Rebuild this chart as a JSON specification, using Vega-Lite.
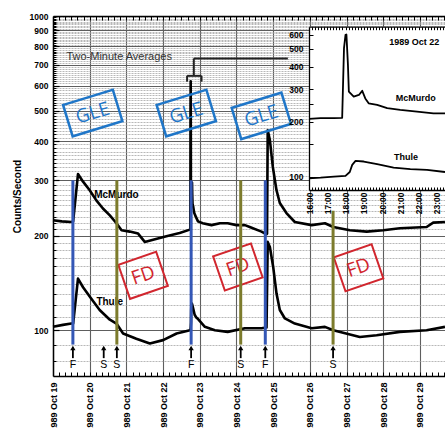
{
 "$schema": "https://vega.github.io/schema/vega-lite/v6.json",
 "width": 392,
 "height": 360,
 "autosize": {"type": "none"},
 "padding": {"left": 53, "top": 16, "right": 0, "bottom": 52},
 "background": "white",
 "config": {"view": {"stroke": null}, "font": "Liberation Sans"},
 "datasets": {
  "series": [
   {"d":0,"v":224,"s":"McMurdo"},{"d":0.24,"v":222,"s":"McMurdo"},{"d":0.5,"v":221,"s":"McMurdo"},{"d":0.549,"v":222,"s":"McMurdo"},{"d":0.681,"v":314,"s":"McMurdo"},{"d":0.819,"v":297,"s":"McMurdo"},{"d":1.0,"v":279,"s":"McMurdo"},{"d":1.181,"v":259,"s":"McMurdo"},{"d":1.361,"v":244,"s":"McMurdo"},{"d":1.549,"v":232,"s":"McMurdo"},{"d":1.729,"v":219,"s":"McMurdo"},{"d":1.868,"v":208,"s":"McMurdo"},{"d":2.09,"v":206,"s":"McMurdo"},{"d":2.319,"v":203,"s":"McMurdo"},{"d":2.5,"v":191,"s":"McMurdo"},{"d":2.729,"v":194,"s":"McMurdo"},{"d":3.09,"v":199,"s":"McMurdo"},{"d":3.451,"v":204,"s":"McMurdo"},{"d":3.729,"v":209,"s":"McMurdo"},{"d":3.743,"v":210,"s":"McMurdo"},{"d":3.747,"v":500,"s":"McMurdo"},{"d":3.752,"v":620,"s":"McMurdo"},{"d":3.756,"v":409,"s":"McMurdo"},{"d":3.758,"v":292,"s":"McMurdo"},{"d":3.769,"v":274,"s":"McMurdo"},{"d":3.781,"v":280,"s":"McMurdo"},{"d":3.788,"v":295,"s":"McMurdo"},{"d":3.795,"v":268,"s":"McMurdo"},{"d":3.803,"v":252,"s":"McMurdo"},{"d":3.822,"v":247,"s":"McMurdo"},{"d":3.845,"v":237,"s":"McMurdo"},{"d":3.875,"v":232,"s":"McMurdo"},{"d":3.913,"v":227,"s":"McMurdo"},{"d":3.951,"v":222,"s":"McMurdo"},{"d":4.08,"v":219,"s":"McMurdo"},{"d":4.319,"v":216,"s":"McMurdo"},{"d":4.549,"v":219,"s":"McMurdo"},{"d":4.76,"v":219,"s":"McMurdo"},{"d":5.0,"v":216,"s":"McMurdo"},{"d":5.229,"v":216,"s":"McMurdo"},{"d":5.361,"v":213,"s":"McMurdo"},{"d":5.681,"v":206,"s":"McMurdo"},{"d":5.819,"v":202,"s":"McMurdo"},{"d":5.833,"v":203,"s":"McMurdo"},{"d":5.851,"v":433,"s":"McMurdo"},{"d":5.91,"v":403,"s":"McMurdo"},{"d":5.99,"v":331,"s":"McMurdo"},{"d":6.09,"v":279,"s":"McMurdo"},{"d":6.181,"v":254,"s":"McMurdo"},{"d":6.361,"v":236,"s":"McMurdo"},{"d":6.59,"v":221,"s":"McMurdo"},{"d":7.049,"v":216,"s":"McMurdo"},{"d":7.41,"v":219,"s":"McMurdo"},{"d":7.639,"v":213,"s":"McMurdo"},{"d":8.09,"v":208,"s":"McMurdo"},{"d":8.549,"v":206,"s":"McMurdo"},{"d":9.0,"v":208,"s":"McMurdo"},{"d":9.451,"v":211,"s":"McMurdo"},{"d":10.181,"v":213,"s":"McMurdo"},{"d":10.361,"v":220,"s":"McMurdo"},{"d":10.681,"v":221,"s":"McMurdo"},
   {"d":0,"v":102.5,"s":"Thule"},{"d":0.271,"v":104,"s":"Thule"},{"d":0.5,"v":105,"s":"Thule"},{"d":0.549,"v":105,"s":"Thule"},{"d":0.681,"v":146,"s":"Thule"},{"d":0.819,"v":137,"s":"Thule"},{"d":1.0,"v":128,"s":"Thule"},{"d":1.271,"v":116,"s":"Thule"},{"d":1.549,"v":108,"s":"Thule"},{"d":1.729,"v":105,"s":"Thule"},{"d":1.91,"v":97.6,"s":"Thule"},{"d":2.271,"v":94,"s":"Thule"},{"d":2.639,"v":90.7,"s":"Thule"},{"d":3.0,"v":93,"s":"Thule"},{"d":3.368,"v":97.6,"s":"Thule"},{"d":3.729,"v":100,"s":"Thule"},{"d":3.75,"v":101,"s":"Thule"},{"d":3.76,"v":106,"s":"Thule"},{"d":3.765,"v":116,"s":"Thule"},{"d":3.773,"v":122,"s":"Thule"},{"d":3.792,"v":121,"s":"Thule"},{"d":3.822,"v":117,"s":"Thule"},{"d":3.86,"v":112,"s":"Thule"},{"d":3.898,"v":110,"s":"Thule"},{"d":3.936,"v":109,"s":"Thule"},{"d":4.139,"v":102.5,"s":"Thule"},{"d":4.41,"v":100,"s":"Thule"},{"d":4.76,"v":98.8,"s":"Thule"},{"d":5.229,"v":101.5,"s":"Thule"},{"d":5.681,"v":101.5,"s":"Thule"},{"d":5.819,"v":102,"s":"Thule"},{"d":5.851,"v":191,"s":"Thule"},{"d":5.91,"v":184,"s":"Thule"},{"d":6.0,"v":159,"s":"Thule"},{"d":6.09,"v":131,"s":"Thule"},{"d":6.181,"v":116,"s":"Thule"},{"d":6.319,"v":109,"s":"Thule"},{"d":6.59,"v":105,"s":"Thule"},{"d":7.049,"v":101.5,"s":"Thule"},{"d":7.41,"v":102.5,"s":"Thule"},{"d":7.639,"v":100,"s":"Thule"},{"d":8.361,"v":95.2,"s":"Thule"},{"d":8.819,"v":96.4,"s":"Thule"},{"d":9.451,"v":98.8,"s":"Thule"},{"d":10.181,"v":100,"s":"Thule"},{"d":10.681,"v":102.5,"s":"Thule"}
  ],
  "inset": [
   {"h":16,"v":207,"s":"McMurdo"},{"h":16.633,"v":209,"s":"McMurdo"},{"h":17.367,"v":209,"s":"McMurdo"},{"h":17.817,"v":210,"s":"McMurdo"},{"h":17.917,"v":505,"s":"McMurdo"},{"h":18.0,"v":597,"s":"McMurdo"},{"h":18.05,"v":600,"s":"McMurdo"},{"h":18.133,"v":409,"s":"McMurdo"},{"h":18.183,"v":292,"s":"McMurdo"},{"h":18.45,"v":274,"s":"McMurdo"},{"h":18.733,"v":280,"s":"McMurdo"},{"h":18.917,"v":295,"s":"McMurdo"},{"h":19.083,"v":268,"s":"McMurdo"},{"h":19.267,"v":252,"s":"McMurdo"},{"h":19.733,"v":247,"s":"McMurdo"},{"h":20.283,"v":237,"s":"McMurdo"},{"h":21.0,"v":232,"s":"McMurdo"},{"h":21.917,"v":227,"s":"McMurdo"},{"h":22.817,"v":222,"s":"McMurdo"},{"h":23.45,"v":222,"s":"McMurdo"},
   {"h":16,"v":98,"s":"Thule"},{"h":16.633,"v":98.7,"s":"Thule"},{"h":17.367,"v":100,"s":"Thule"},{"h":18.0,"v":101,"s":"Thule"},{"h":18.233,"v":106,"s":"Thule"},{"h":18.367,"v":116,"s":"Thule"},{"h":18.55,"v":122,"s":"Thule"},{"h":19.0,"v":121,"s":"Thule"},{"h":19.733,"v":117,"s":"Thule"},{"h":20.633,"v":112,"s":"Thule"},{"h":21.55,"v":110,"s":"Thule"},{"h":22.467,"v":109,"s":"Thule"},{"h":23.45,"v":106,"s":"Thule"}
  ],
  "boxes": [
   {"d":1.083,"v":491,"txt":"GLE"},{"d":3.632,"v":491,"txt":"GLE"},{"d":5.677,"v":481,"txt":"GLE"},
   {"d":2.455,"v":149.5,"txt":"FD"},{"d":5.038,"v":159,"txt":"FD"},{"d":8.326,"v":158,"txt":"FD"}
  ],
  "events": [
   {"d":0.542,"lbl":"F","top":300},{"d":1.382,"lbl":"S","top":null},{"d":1.74,"lbl":"S","top":300},{"d":3.764,"lbl":"F","top":300},{"d":5.115,"lbl":"S","top":300},{"d":5.785,"lbl":"F","top":300},{"d":7.632,"lbl":"S","top":240}
  ],
  "bracket": [
   {"d1":3.837,"d2":6.4,"v1":733,"v2":733},
   {"d1":3.837,"d2":3.837,"v1":733,"v2":645},
   {"d1":3.654,"d2":4.047,"v1":645,"v2":645},
   {"d1":3.654,"d2":3.654,"v1":645,"v2":618},
   {"d1":4.047,"d2":4.047,"v1":645,"v2":618}
  ]
 },
 "layer": [
  {
   "data": {"name": "series"},
   "mark": {"type": "line", "strokeWidth": 2.6, "color": "black", "strokeJoin": "round"},
   "encoding": {
    "x": {"field": "d", "type": "quantitative", "scale": {"domain": [0, 10.682], "nice": false, "zero": false},
     "axis": {"orient": "bottom", "title": null, "values": [0,1,2,3,4,5,6,7,8,9,10],
      "labelExpr": "'1989 Oct ' + (19 + datum.value)",
      "labelAngle": 270, "labelFontSize": 9, "labelFontWeight": "bold", "labelColor": "black", "labelOverlap": false, "labelBound": false, "labelFlush": false, "labelPadding": 6,
      "grid": true, "gridColor": "#5e5e5e", "gridWidth": 1.1, "ticks": false,
      "domain": true, "domainColor": "black", "domainWidth": 1.5}},
    "y": {"field": "v", "type": "quantitative", "scale": {"type": "log", "domain": [71.5, 1000], "nice": false},
     "axis": {"orient": "left", "title": "Counts/Second", "titleFontSize": 10, "titleFontWeight": "bold", "titleColor": "black", "titlePadding": 7,
      "values": [100,200,300,400,500,600,700,800,900,1000], "format": "d",
      "labelFontSize": 8.5, "labelFontWeight": "bold", "labelColor": "black", "labelOverlap": false, "labelBound": false, "labelPadding": 5,
      "grid": true, "gridColor": "#5e5e5e", "gridWidth": 1.1, "ticks": false,
      "domain": true, "domainColor": "black", "domainWidth": 1.5}},
    "detail": {"field": "s"}
   }
  },
  {
   "data": {"name": "series"},
   "mark": {"type": "point", "opacity": 0},
   "encoding": {
    "x": {"field": "d", "type": "quantitative", "scale": {"domain": [0, 10.682], "nice": false, "zero": false},
     "axis": {"orient": "bottom", "title": null, "labels": false, "grid": false, "domain": false,
      "values": [0.1667,0.3333,0.5,0.6667,0.8333,1,1.1667,1.3333,1.5,1.6667,1.8333,2,2.1667,2.3333,2.5,2.6667,2.8333,3,3.1667,3.3333,3.5,3.6667,3.8333,4,4.1667,4.3333,4.5,4.6667,4.8333,5,5.1667,5.3333,5.5,5.6667,5.8333,6,6.1667,6.3333,6.5,6.6667,6.8333,7,7.1667,7.3333,7.5,7.6667,7.8333,8,8.1667,8.3333,8.5,8.6667,8.8333,9,9.1667,9.3333,9.5,9.6667,9.8333,10,10.1667,10.3333,10.5,10.6667],
      "tickSize": -4, "tickColor": "black", "tickWidth": 1}},
    "y": {"field": "v", "type": "quantitative", "scale": {"type": "log", "domain": [71.5, 1000], "nice": false},
     "axis": {"orient": "left", "title": null, "labels": false, "domain": false,
      "values": [80,90,110,120,130,140,150,160,170,180,190,210,220,230,240,250,260,270,280,290,310,320,330,340,350,360,370,380,390,410,420,430,440,450,460,470,480,490,510,520,530,540,550,560,570,580,590,610,620,630,640,650,660,670,680,690,710,720,730,740,750,760,770,780,790,810,820,830,840,850,860,870,880,890,910,920,930,940,950,960,970,980,990],
      "grid": true, "gridColor": "#9a9a9a", "gridWidth": 0.7, "gridDash": [2, 1],
      "tickSize": -3, "tickColor": "black", "tickWidth": 1}}
   }
  },
  {
   "data": {"name": "series"},
   "mark": {"type": "point", "opacity": 0},
   "encoding": {
    "x": {"field": "d", "type": "quantitative", "scale": {"domain": [0, 10.682], "nice": false, "zero": false},
     "axis": {"orient": "top", "title": null, "labels": false, "grid": false,
      "values": [0.1667,0.3333,0.5,0.6667,0.8333,1,1.1667,1.3333,1.5,1.6667,1.8333,2,2.1667,2.3333,2.5,2.6667,2.8333,3,3.1667,3.3333,3.5,3.6667,3.8333,4,4.1667,4.3333,4.5,4.6667,4.8333,5,5.1667,5.3333,5.5,5.6667,5.8333,6,6.1667,6.3333,6.5,6.6667,6.8333,7,7.1667,7.3333,7.5,7.6667,7.8333,8,8.1667,8.3333,8.5,8.6667,8.8333,9,9.1667,9.3333,9.5,9.6667,9.8333,10,10.1667,10.3333,10.5,10.6667],
      "tickSize": -4, "tickColor": "black", "tickWidth": 1, "domainColor": "black", "domainWidth": 1.5}},
    "y": {"field": "v", "type": "quantitative", "scale": {"type": "log", "domain": [71.5, 1000], "nice": false},
     "axis": {"orient": "left", "title": null, "labels": false, "grid": false, "domain": false,
      "values": [100,200,300,400,500,600,700,800,900],
      "tickSize": -6, "tickColor": "black", "tickWidth": 1.2}}
   }
  },
  {
   "data": {"name": "boxes"},
   "transform": [{"filter": "datum.txt == 'GLE'"}],
   "mark": {"type": "point", "shape": "M-1,-0.63L1,-0.63L1,0.63L-1,0.63Z", "size": 2704, "filled": false, "stroke": "#1f76c8", "strokeWidth": 2.5, "angle": -17, "opacity": 1},
   "encoding": {
    "x": {"field": "d", "type": "quantitative", "scale": {"domain": [0, 10.682], "nice": false, "zero": false}, "axis": null},
    "y": {"field": "v", "type": "quantitative", "scale": {"type": "log", "domain": [71.5, 1000], "nice": false}, "axis": null}
   }
  },
  {
   "data": {"name": "boxes"},
   "transform": [{"filter": "datum.txt == 'FD'"}],
   "mark": {"type": "point", "shape": "M-1,-0.9L1,-0.9L1,0.9L-1,0.9Z", "size": 1600, "filled": false, "stroke": "#d1262e", "strokeWidth": 2, "angle": -19, "opacity": 1},
   "encoding": {
    "x": {"field": "d", "type": "quantitative", "scale": {"domain": [0, 10.682], "nice": false, "zero": false}, "axis": null},
    "y": {"field": "v", "type": "quantitative", "scale": {"type": "log", "domain": [71.5, 1000], "nice": false}, "axis": null}
   }
  },
  {
   "data": {"name": "boxes"},
   "transform": [{"filter": "datum.txt == 'GLE'"}],
   "mark": {"type": "text", "font": "Open Sans", "fontSize": 19, "align": "center", "baseline": "middle", "angle": -17, "color": "#1f76c8"},
   "encoding": {
    "x": {"field": "d", "type": "quantitative", "scale": {"domain": [0, 10.682], "nice": false, "zero": false}, "axis": null},
    "y": {"field": "v", "type": "quantitative", "scale": {"type": "log", "domain": [71.5, 1000], "nice": false}, "axis": null},
    "text": {"field": "txt"}
   }
  },
  {
   "data": {"name": "boxes"},
   "transform": [{"filter": "datum.txt == 'FD'"}],
   "mark": {"type": "text", "font": "Open Sans", "fontSize": 19, "align": "center", "baseline": "middle", "angle": -19, "color": "#d1262e"},
   "encoding": {
    "x": {"field": "d", "type": "quantitative", "scale": {"domain": [0, 10.682], "nice": false, "zero": false}, "axis": null},
    "y": {"field": "v", "type": "quantitative", "scale": {"type": "log", "domain": [71.5, 1000], "nice": false}, "axis": null},
    "text": {"field": "txt"}
   }
  },
  {
   "data": {"values": [{"d": 1.729, "v": 269, "txt": "McMurdo"}, {"d": 1.546, "v": 123, "txt": "Thule"}]},
   "mark": {"type": "text", "fontSize": 10, "fontWeight": "bold", "color": "black", "align": "center", "baseline": "middle"},
   "encoding": {
    "x": {"field": "d", "type": "quantitative", "scale": {"domain": [0, 10.682], "nice": false, "zero": false}, "axis": null},
    "y": {"field": "v", "type": "quantitative", "scale": {"type": "log", "domain": [71.5, 1000], "nice": false}, "axis": null},
    "text": {"field": "txt"}
   }
  },
  {
   "data": {"values": [{"d": 0.365, "v": 742, "txt": "Two-Minute Averages"}]},
   "mark": {"type": "text", "fontSize": 11, "color": "#333333", "align": "left", "baseline": "middle"},
   "encoding": {
    "x": {"field": "d", "type": "quantitative", "scale": {"domain": [0, 10.682], "nice": false, "zero": false}, "axis": null},
    "y": {"field": "v", "type": "quantitative", "scale": {"type": "log", "domain": [71.5, 1000], "nice": false}, "axis": null},
    "text": {"field": "txt"}
   }
  },
  {
   "data": {"name": "bracket"},
   "mark": {"type": "rule", "strokeWidth": 2, "color": "#222222"},
   "encoding": {
    "x": {"field": "d1", "type": "quantitative", "scale": {"domain": [0, 10.682], "nice": false, "zero": false}, "axis": null},
    "x2": {"field": "d2"},
    "y": {"field": "v1", "type": "quantitative", "scale": {"type": "log", "domain": [71.5, 1000], "nice": false}, "axis": null},
    "y2": {"field": "v2"}
   }
  },
  {
   "data": {"name": "events"},
   "transform": [{"filter": "datum.lbl == 'F'"}],
   "mark": {"type": "rule", "strokeWidth": 3, "color": "#3457b6"},
   "encoding": {
    "x": {"field": "d", "type": "quantitative", "scale": {"domain": [0, 10.682], "nice": false, "zero": false}, "axis": null},
    "y": {"field": "top", "type": "quantitative", "scale": {"type": "log", "domain": [71.5, 1000], "nice": false}, "axis": null},
    "y2": {"datum": 90}
   }
  },
  {
   "data": {"name": "events"},
   "transform": [{"filter": "datum.lbl == 'S' && datum.top > 0"}],
   "mark": {"type": "rule", "strokeWidth": 3, "color": "#7c7b2c"},
   "encoding": {
    "x": {"field": "d", "type": "quantitative", "scale": {"domain": [0, 10.682], "nice": false, "zero": false}, "axis": null},
    "y": {"field": "top", "type": "quantitative", "scale": {"type": "log", "domain": [71.5, 1000], "nice": false}, "axis": null},
    "y2": {"datum": 90}
   }
  },
  {
   "data": {"name": "events"},
   "mark": {"type": "rule", "strokeWidth": 1.8, "color": "black"},
   "encoding": {
    "x": {"field": "d", "type": "quantitative", "scale": {"domain": [0, 10.682], "nice": false, "zero": false}, "axis": null},
    "y": {"datum": 81.5, "type": "quantitative", "scale": {"type": "log", "domain": [71.5, 1000], "nice": false}, "axis": null},
    "y2": {"datum": 88}
   }
  },
  {
   "data": {"name": "events"},
   "mark": {"type": "point", "shape": "triangle-up", "size": 28, "filled": true, "color": "black", "opacity": 1},
   "encoding": {
    "x": {"field": "d", "type": "quantitative", "scale": {"domain": [0, 10.682], "nice": false, "zero": false}, "axis": null},
    "y": {"datum": 87.8, "type": "quantitative", "scale": {"type": "log", "domain": [71.5, 1000], "nice": false}, "axis": null}
   }
  },
  {
   "data": {"name": "events"},
   "mark": {"type": "text", "fontSize": 10.5, "color": "black", "align": "center", "baseline": "middle"},
   "encoding": {
    "x": {"field": "d", "type": "quantitative", "scale": {"domain": [0, 10.682], "nice": false, "zero": false}, "axis": null},
    "y": {"datum": 77.3, "type": "quantitative", "scale": {"type": "log", "domain": [71.5, 1000], "nice": false}, "axis": null},
    "text": {"field": "lbl"}
   }
  },
  {
   "data": {"values": [{"h0": 16, "h1": 23.45, "v0": 84.5, "v1": 662}]},
   "mark": {"type": "rect", "fill": "white"},
   "encoding": {
    "x": {"field": "h0", "type": "quantitative", "scale": {"domain": [16, 23.45], "range": [256, 392], "nice": false, "zero": false}, "axis": null},
    "x2": {"field": "h1"},
    "y": {"field": "v0", "type": "quantitative", "scale": {"type": "log", "domain": [84.5, 662], "range": [174, 10.7], "nice": false}, "axis": null},
    "y2": {"field": "v1"}
   }
  },
  {
   "data": {"name": "inset"},
   "mark": {"type": "line", "strokeWidth": 1.8, "color": "black", "strokeJoin": "round"},
   "encoding": {
    "x": {"field": "h", "type": "quantitative", "scale": {"domain": [16, 23.45], "range": [256, 392], "nice": false, "zero": false},
     "axis": {"orient": "bottom", "offset": -186, "title": null, "values": [16,17,18,19,20,21,22,23],
      "labelExpr": "datum.value + ':00'",
      "labelAngle": 270, "labelFontSize": 8.5, "labelFontWeight": "bold", "labelColor": "black", "labelOverlap": false, "labelBound": false, "labelFlush": false, "labelPadding": 2,
      "grid": false, "ticks": false, "domainColor": "black", "domainWidth": 1.3, "zindex": 2}},
    "y": {"field": "v", "type": "quantitative", "scale": {"type": "log", "domain": [84.5, 662], "range": [174, 10.7], "nice": false},
     "axis": {"orient": "left", "offset": -256, "title": null, "values": [100, 200, 300, 400, 500, 600], "format": "d",
      "labelFontSize": 8.5, "labelFontWeight": "bold", "labelColor": "black", "labelOverlap": false, "labelPadding": 6,
      "grid": false, "ticks": false, "domainColor": "black", "domainWidth": 1.3, "zindex": 2}},
    "detail": {"field": "s"}
   }
  },
  {
   "data": {"name": "inset"},
   "mark": {"type": "point", "opacity": 0},
   "encoding": {
    "x": {"field": "h", "type": "quantitative", "scale": {"domain": [16, 23.45], "range": [256, 392], "nice": false, "zero": false},
     "axis": {"orient": "bottom", "offset": -186, "title": null, "labels": false, "grid": false, "domain": false,
      "values": [16.1667,16.3333,16.5,16.6667,16.8333,17,17.1667,17.3333,17.5,17.6667,17.8333,18,18.1667,18.3333,18.5,18.6667,18.8333,19,19.1667,19.3333,19.5,19.6667,19.8333,20,20.1667,20.3333,20.5,20.6667,20.8333,21,21.1667,21.3333,21.5,21.6667,21.8333,22,22.1667,22.3333,22.5,22.6667,22.8333,23,23.1667,23.3333],
      "tickSize": -3, "tickColor": "black", "tickWidth": 1, "zindex": 2}},
    "y": {"field": "v", "type": "quantitative", "scale": {"type": "log", "domain": [84.5, 662], "range": [174, 10.7], "nice": false},
     "axis": {"orient": "left", "offset": -256, "title": null, "labels": false, "grid": false, "domain": false,
      "values": [100, 150, 200, 250, 300, 400, 500, 600],
      "tickSize": -4, "tickColor": "black", "tickWidth": 1, "zindex": 2}}
   }
  },
  {
   "data": {"name": "inset"},
   "mark": {"type": "point", "opacity": 0},
   "encoding": {
    "x": {"field": "h", "type": "quantitative", "scale": {"domain": [16, 23.45], "range": [256, 392], "nice": false, "zero": false},
     "axis": {"orient": "top", "offset": -10.7, "title": null, "labels": false, "grid": false,
      "values": [16.1667,16.3333,16.5,16.6667,16.8333,17,17.1667,17.3333,17.5,17.6667,17.8333,18,18.1667,18.3333,18.5,18.6667,18.8333,19,19.1667,19.3333,19.5,19.6667,19.8333,20,20.1667,20.3333,20.5,20.6667,20.8333,21,21.1667,21.3333,21.5,21.6667,21.8333,22,22.1667,22.3333,22.5,22.6667,22.8333,23,23.1667,23.3333],
      "tickSize": -3, "tickColor": "black", "tickWidth": 1, "domainColor": "black", "domainWidth": 1.3, "zindex": 2}},
    "y": {"field": "v", "type": "quantitative", "scale": {"type": "log", "domain": [84.5, 662], "range": [174, 10.7], "nice": false}, "axis": null}
   }
  },
  {
   "data": {"values": [{"h": 21.77, "v": 544, "txt": "1989 Oct 22"}, {"h": 21.85, "v": 269, "txt": "McMurdo"}, {"h": 21.32, "v": 128.6, "txt": "Thule"}]},
   "mark": {"type": "text", "fontSize": 9, "fontWeight": "bold", "color": "black", "align": "center", "baseline": "middle"},
   "encoding": {
    "x": {"field": "h", "type": "quantitative", "scale": {"domain": [16, 23.45], "range": [256, 392], "nice": false, "zero": false}, "axis": null},
    "y": {"field": "v", "type": "quantitative", "scale": {"type": "log", "domain": [84.5, 662], "range": [174, 10.7], "nice": false}, "axis": null},
    "text": {"field": "txt"}
   }
  }
 ],
 "resolve": {"scale": {"x": "independent", "y": "independent"}, "axis": {"x": "independent", "y": "independent"}}
}
